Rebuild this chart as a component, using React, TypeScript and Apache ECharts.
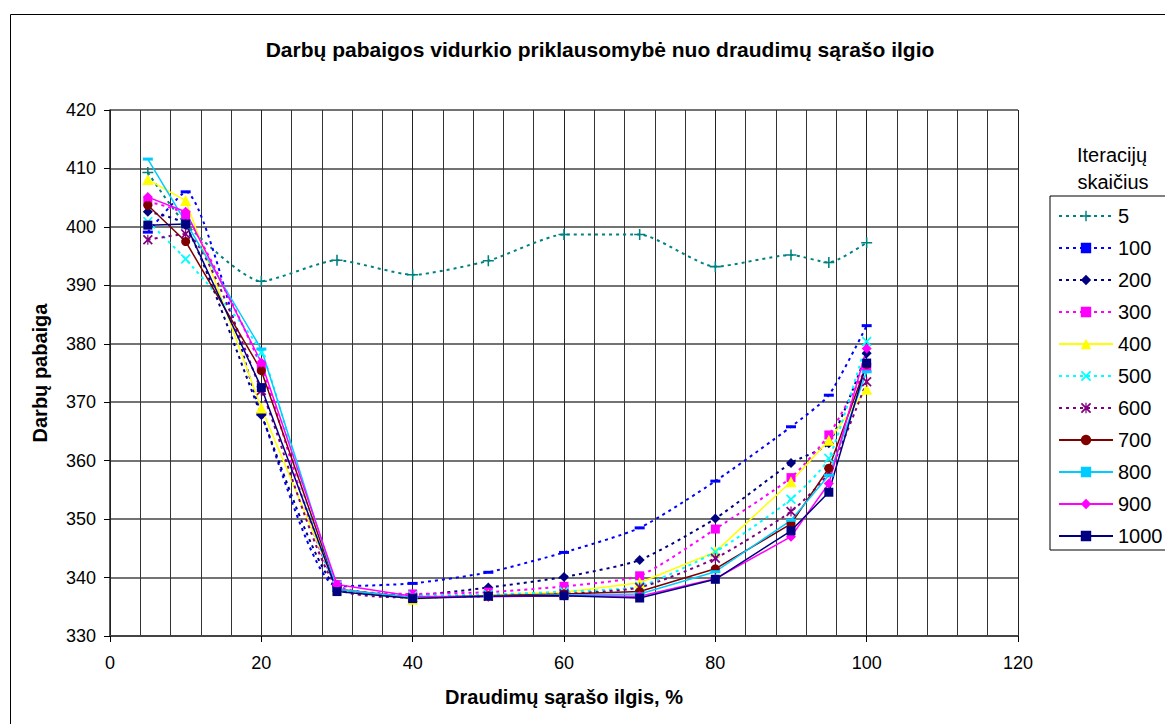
import React, { useEffect, useRef } from "react";
import * as echarts from "echarts";

const xValues = [5, 10, 20, 30, 40, 50, 60, 70, 80, 90, 95, 100];

const seriesNames = ["5", "100", "200", "300", "400", "500", "600", "700", "800", "900", "1000"];

const s5 = [409.3, 400.5, 390.7, 394.3, 391.8, 394.2, 398.7, 398.7, 393.2, 395.2, 393.9, 397.3];
const s100 = [399.1, 406.0, 368.0, 338.5, 339.0, 340.9, 344.3, 348.5, 356.5, 365.8, 371.2, 383.1];
const s200 = [402.6, 400.3, 367.8, 338.2, 337.0, 338.3, 340.1, 343.0, 350.1, 359.6, 363.0, 378.4];
const s300 = [404.3, 402.0, 376.0, 338.8, 337.2, 337.5, 338.5, 340.3, 348.3, 357.1, 364.4, 376.0];
const s400 = [408.1, 404.5, 369.0, 338.0, 336.3, 337.0, 337.5, 339.1, 344.4, 356.4, 363.5, 372.2];
const s500 = [400.9, 394.5, 378.5, 338.6, 336.9, 337.1, 337.6, 338.5, 344.4, 353.4, 360.4, 380.4];
const s600 = [397.8, 398.8, 372.0, 338.3, 336.6, 336.8, 337.2, 338.3, 343.3, 351.3, 358.0, 373.5];
const s700 = [403.7, 397.5, 375.4, 338.0, 336.6, 336.9, 337.2, 337.6, 341.5, 349.2, 358.7, 376.5];
const s800 = [411.6, 400.8, 379.1, 338.0, 336.6, 336.8, 337.0, 337.2, 341.0, 349.8, 357.5, 375.2];
const s900 = [405.1, 402.6, 376.8, 338.8, 336.8, 336.7, 336.9, 336.8, 339.8, 347.0, 356.1, 379.2];
const s1000 = [400.3, 400.5, 372.5, 337.6, 336.4, 336.8, 336.9, 336.5, 339.7, 348.0, 354.6, 376.7];

const allValues = [s5, s100, s200, s300, s400, s500, s600, s700, s800, s900, s1000];

const PLUS = "path://M4.3,0H5.7V4.3H10V5.7H5.7V10H4.3V5.7H0V4.3H4.3Z";
const XMARK = "path://M0,1.2L1.2,0L5,3.8L8.8,0L10,1.2L6.2,5L10,8.8L8.8,10L5,6.2L1.2,10L0,8.8L3.8,5Z";
const STAR = "path://M0,1.2L1.2,0L5,3.8L8.8,0L10,1.2L6.2,5L10,8.8L8.8,10L5,6.2L1.2,10L0,8.8L3.8,5Z M4.4,0H5.6V10H4.4Z";
const DASH = "path://M0,0H10V3H0Z";

const styles = [
  { color: "#008080", dotted: true, symbol: PLUS, size: 11 },
  { color: "#0000FF", dotted: true, symbol: "rect", size: [10, 3] },
  { color: "#000080", dotted: true, symbol: "diamond", size: 10 },
  { color: "#FF00FF", dotted: true, symbol: "rect", size: 9 },
  { color: "#FFFF00", dotted: false, symbol: "triangle", size: 11 },
  { color: "#00FFFF", dotted: true, symbol: XMARK, size: 10 },
  { color: "#800080", dotted: true, symbol: STAR, size: 10 },
  { color: "#800000", dotted: false, symbol: "circle", size: 9 },
  { color: "#00CCFF", dotted: false, symbol: "rect", size: [10, 3] },
  { color: "#FF00FF", dotted: false, symbol: "diamond", size: 10 },
  { color: "#000080", dotted: false, symbol: "rect", size: 9 },
];

const FONT = "Liberation Sans, Arial, sans-serif";

export default function App() {
  const ref = useRef<HTMLDivElement>(null);
  useEffect(() => {
    if (!ref.current) return;
    const chart = echarts.init(ref.current, null, { renderer: "svg" });
    const series = seriesNames.map((name, i) => {
      const st = styles[i];
      return {
        name,
        type: "line",
        data: xValues.map((x, j) => [x, allValues[i][j]]),
        smooth: st.dotted ? 0.2 : false,
        symbol: st.symbol,
        symbolSize: st.size,
        showSymbol: true,
        lineStyle: {
          color: st.color,
          width: st.dotted ? 2 : 1.5,
          type: st.dotted ? [3, 4] : "solid",
        },
        itemStyle: { color: st.color },
        emphasis: { disabled: true },
      };
    });
    const legendData = seriesNames.map((name, i) => {
      const st = styles[i];
      const isDash = Array.isArray(st.size);
      return { name, icon: undefined as any };
    });
    chart.setOption({
      animation: false,
      backgroundColor: "#fff",
      textStyle: { fontFamily: FONT },
      title: {
        text: "Darbų pabaigos vidurkio priklausomybė nuo draudimų sąrašo ilgio",
        left: 595,
        top: 34,
        textAlign: "center",
        textStyle: { fontSize: 21, fontWeight: "bold", color: "#000", fontFamily: FONT },
      },
      grid: { left: 110, top: 110, right: 147, bottom: 88, containLabel: false },
      xAxis: {
        type: "value",
        min: 0,
        max: 120,
        interval: 20,
        name: "Draudimų sąrašo ilgis, %",
        nameLocation: "middle",
        nameGap: 51,
        nameTextStyle: { fontSize: 20, fontWeight: "bold", color: "#000" },
        axisLine: { show: true, onZero: false, lineStyle: { color: "#444", width: 2 } },
        axisTick: { show: true, length: 6, lineStyle: { color: "#000" } },
        axisLabel: { fontSize: 18, color: "#000", margin: 18 },
        splitLine: { show: true, lineStyle: { color: "#222", width: 1 } },
        minorTick: { show: false, splitNumber: 5 },
        minorSplitLine: { show: true, lineStyle: { color: "#333", width: 1 } },
      },
      yAxis: {
        type: "value",
        min: 330,
        max: 420,
        interval: 10,
        name: "Darbų pabaiga",
        nameLocation: "middle",
        nameGap: 60,
        nameRotate: 90,
        nameTextStyle: { fontSize: 20, fontWeight: "bold", color: "#000" },
        axisLine: { show: true, lineStyle: { color: "#222", width: 1.5 } },
        axisTick: { show: true, length: 6, lineStyle: { color: "#000" } },
        axisLabel: { fontSize: 18, color: "#000", margin: 14 },
        splitLine: { show: true, lineStyle: { color: "#444", width: 1.5 } },
      },
      legend: {
        data: seriesNames,
        orient: "vertical",
        left: 1050,
        top: 196,
        itemWidth: 54,
        itemHeight: 13,
        itemGap: 12,
        padding: [10, 6, 4, 8],
        borderColor: "#000",
        borderWidth: 1,
        textStyle: { fontSize: 20, color: "#000" },
      },
      graphic: [
        {
          type: "rect",
          left: 8,
          top: 12,
          shape: { width: 1200, height: 760 },
          style: { fill: "none", stroke: "#000", lineWidth: 1 },
          silent: true,
          z: -10,
        },
        {
          type: "text",
          x: 1112,
          y: 155,
          style: { text: "Iteracijų", fontSize: 20, fill: "#000", textAlign: "center", textVerticalAlign: "middle", fontFamily: FONT },
        },
        {
          type: "text",
          x: 1113,
          y: 182,
          style: { text: "skaičius", fontSize: 20, fill: "#000", textAlign: "center", textVerticalAlign: "middle", fontFamily: FONT },
        },
      ],
      series,
    });
    return () => chart.dispose();
  }, []);
  return (
    <div
      ref={ref}
      style={{ position: "fixed", left: 0, top: 0, width: 1165, height: 724, background: "#fff" }}
    />
  );
}
